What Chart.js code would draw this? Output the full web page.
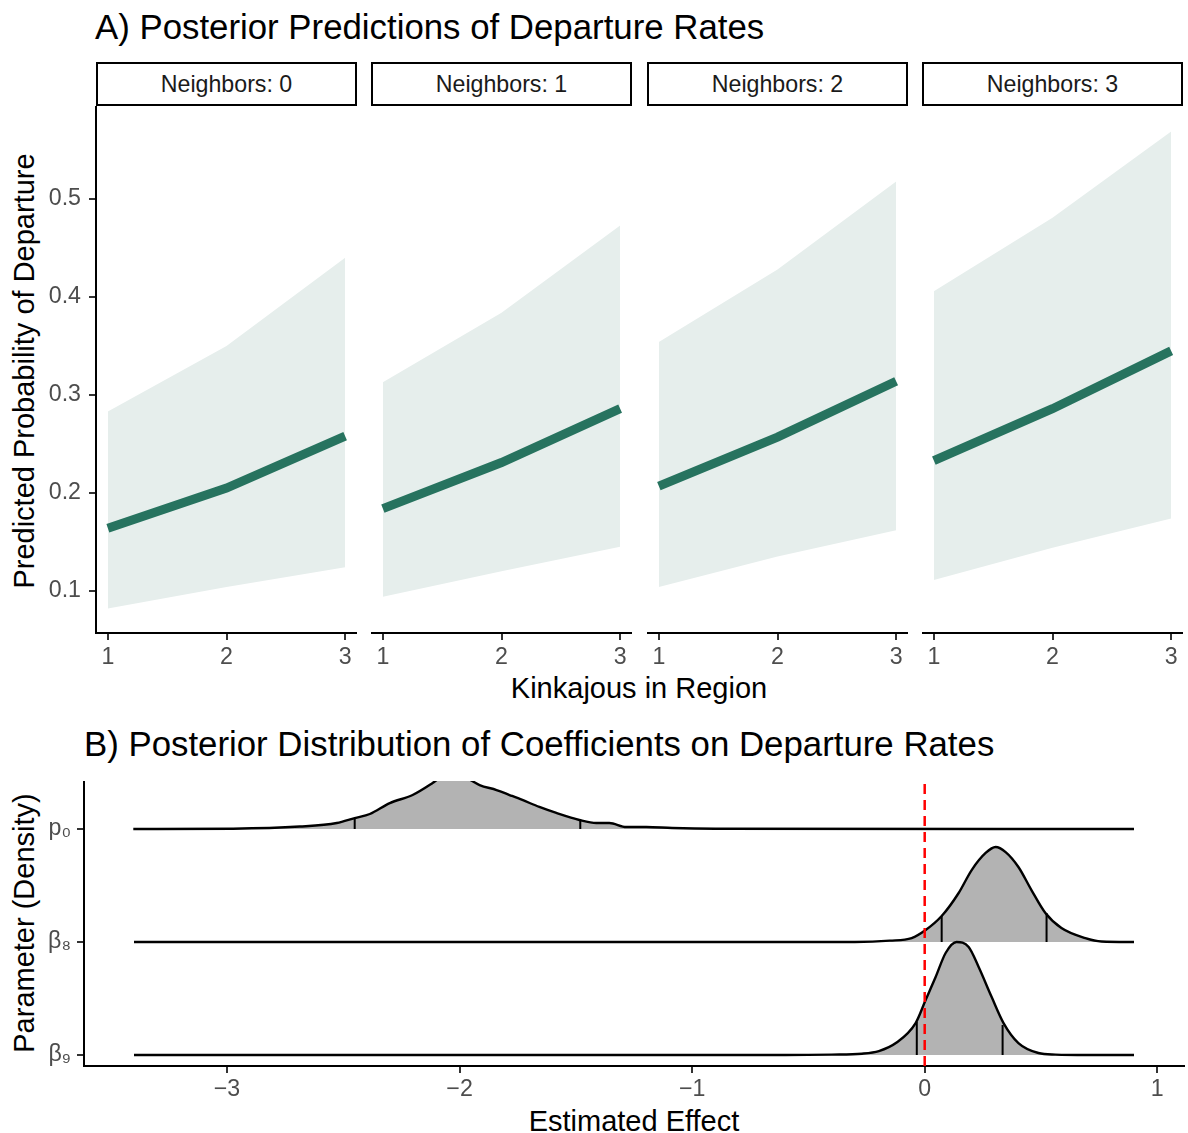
<!DOCTYPE html>
<html>
<head>
<meta charset="utf-8">
<script src="https://cdn.jsdelivr.net/npm/chart.js@4.4.0/dist/chart.umd.min.js"></script>
<style>
  body { margin: 0; background: #fff; }
  #wrap { position: relative; width: 1188px; height: 1133px; overflow: hidden; font-family: "Liberation Sans", Arial, sans-serif; }
  .txt { position: absolute; white-space: nowrap; line-height: 1; }
  .title { font-size: 34.8px; color: #000; }
  .axtitle { font-size: 29px; color: #000; }
  .rot { transform: translate(-50%, -50%) rotate(-90deg); }
  .strip { position: absolute; box-sizing: border-box; border: 2px solid #000; top: 62px; width: 261px; height: 44px;
           text-align: center; font-size: 23.2px; line-height: 40px; color: #1a1a1a; white-space: nowrap; }
  canvas { position: absolute; }
</style>
</head>
<body>
<div id="wrap">
  <div class="txt title" style="left:95px; top:9.5px;">A) Posterior Predictions of Departure Rates</div>
  <div class="txt title" style="left:84px; top:727px;">B) Posterior Distribution of Coefficients on Departure Rates</div>
  <div class="txt axtitle" style="left:639px; top:673.5px; transform:translateX(-50%);">Kinkajous in Region</div>
  <div class="txt axtitle" style="left:634px; top:1106.5px; transform:translateX(-50%);">Estimated Effect</div>
  <div class="txt axtitle rot" style="left:24px; top:371px;">Predicted Probability of Departure</div>
  <div class="txt axtitle rot" style="left:24px; top:923px;">Parameter (Density)</div>
</div>
<script>
// ---- panel A data ----
const kinkajous = [1, 2, 3];
const neighbors = [0, 1, 2, 3];
const predMean  = [[0.164, 0.205, 0.258], [0.184, 0.231, 0.286], [0.207, 0.257, 0.314], [0.233, 0.286, 0.345]];
const predUpper = [[0.283, 0.350, 0.440], [0.313, 0.384, 0.473], [0.354, 0.428, 0.518], [0.406, 0.481, 0.569]];
const predLower = [[0.082, 0.104, 0.124], [0.094, 0.120, 0.145], [0.104, 0.135, 0.162], [0.111, 0.144, 0.174]];
const xTicksA = [1, 2, 3];
const yTicksA = [0.1, 0.2, 0.3, 0.4, 0.5];
const yTickLabelsA = ['0.1', '0.2', '0.3', '0.4', '0.5'];

// ---- panel B data (ridge heights above each baseline, in row units) ----
const paramLabels = ['β₉', 'β₈', 'p₀'];   // rows 1, 2, 3
const b9X = [-3.4, -0.6, -0.4, -0.27, -0.197, -0.124, -0.039, 0.004, 0.047, 0.09, 0.137, 0.189, 0.232, 0.288, 0.339, 0.403, 0.489, 0.562, 0.7, 0.9];
const b9H = [0, 0, 0.004, 0.012, 0.035, 0.106, 0.283, 0.487, 0.69, 0.903, 1.0, 0.956, 0.779, 0.513, 0.283, 0.106, 0.018, 0.004, 0, 0];
const b8X = [-3.4, -0.3, -0.15, -0.056, 0.004, 0.073, 0.146, 0.202, 0.262, 0.305, 0.348, 0.403, 0.459, 0.519, 0.588, 0.691, 0.76, 0.9];
const b8H = [0, 0, 0.012, 0.035, 0.106, 0.23, 0.434, 0.637, 0.788, 0.841, 0.796, 0.664, 0.46, 0.257, 0.124, 0.035, 0.005, 0];
const p0X = [-3.403, -2.974, -2.687, -2.528, -2.451, -2.386, -2.3, -2.202, -2.116, -2.086, -2.026, -1.97, -1.914, -1.841,
             -1.785, -1.73, -1.657, -1.584, -1.485, -1.412, -1.356, -1.283, -1.197, -1.086, -0.9, 0.9];
const p0H = [0, 0.003, 0.022, 0.053, 0.097, 0.133, 0.23, 0.301, 0.407, 0.45, 0.47, 0.45, 0.389, 0.345,
             0.301, 0.257, 0.195, 0.142, 0.08, 0.053, 0.053, 0.018, 0.018, 0.009, 0.003, 0];
// 2.5% / 97.5% quantiles and the ridge height there
const b9Q = [-0.034, 0.335], b9QH = [0.292, 0.265];
const b8Q = [0.073, 0.524],  b8QH = [0.23, 0.257];
const p0Q = [-2.451, -1.481], p0QH = [0.097, 0.071];
const zeroLine = 0;
const xTicksB = [-3, -2, -1, 0, 1];
const xTickLabelsB = ['−3', '−2', '−1', '0', '1'];

const lineGreen = '#27735f';
const ribbonFill = '#e6eeec';
const tickGrey = '#4d4d4d';
const wrap = document.getElementById('wrap');
Chart.defaults.font.family = '"Liberation Sans", Arial, sans-serif';

function axisGrid() {
  return { display: true, drawOnChartArea: false, drawTicks: true, tickLength: 7, color: '#333', lineWidth: 2 };
}
// fixed axis sizes, and no label overhang padding
function fitX(h) {
  return s => { s.height = h; s.paddingLeft = 0; s.paddingRight = 0; s.paddingTop = 0; s.paddingBottom = 0; };
}
function fitY(w) {
  return s => { s.width = w; s.paddingLeft = 0; s.paddingRight = 0; s.paddingTop = 0; s.paddingBottom = 0; };
}

// ---- panel A facets ----
const facetLeft = [96, 371, 647, 922];
neighbors.forEach((n, i) => {
  const strip = document.createElement('div');
  strip.className = 'strip';
  strip.style.left = facetLeft[i] + 'px';
  strip.textContent = 'Neighbors: ' + n;
  wrap.appendChild(strip);

  const first = i === 0;
  const yW = first ? 96 : 0;
  const cv = document.createElement('canvas');
  cv.width = 261 + yW;
  cv.height = 527 + 50;
  cv.style.left = (facetLeft[i] - yW) + 'px';
  cv.style.top = '106px';
  wrap.appendChild(cv);

  const pts = arr => kinkajous.map((k, j) => ({ x: k, y: arr[i][j] }));
  new Chart(cv, {
    type: 'line',
    data: {
      datasets: [
        { data: pts(predMean), borderColor: lineGreen, borderWidth: 9, borderCapStyle: 'butt', pointRadius: 0, fill: false, tension: 0 },
        { data: pts(predUpper), borderColor: 'rgba(0,0,0,0)', borderWidth: 0, pointRadius: 0, fill: '+1', backgroundColor: ribbonFill },
        { data: pts(predLower), borderColor: 'rgba(0,0,0,0)', borderWidth: 0, pointRadius: 0, fill: false }
      ]
    },
    options: {
      responsive: false,
      animation: false,
      events: [],
      layout: { padding: 0 },
      plugins: { legend: { display: false }, tooltip: { enabled: false } },
      scales: {
        x: {
          type: 'linear', min: 0.9, max: 3.1,
          afterBuildTicks: s => { s.ticks = xTicksA.map(v => ({ value: v })); },
          afterFit: fitX(50),
          grid: axisGrid(),
          border: { display: true, color: '#000', width: 2 },
          ticks: { color: tickGrey, font: { size: 23.2 }, padding: 4, maxRotation: 0, callback: v => String(v) }
        },
        y: {
          display: first,
          type: 'linear', min: 0.057, max: 0.595,
          afterBuildTicks: s => { s.ticks = yTicksA.map(v => ({ value: v })); },
          afterFit: fitY(first ? 96 : 0),
          grid: axisGrid(),
          border: { display: true, color: '#000', width: 2 },
          ticks: { color: tickGrey, font: { size: 23.2 }, padding: 8, callback: (v, idx) => yTickLabelsA[idx] }
        }
      }
    }
  });
});

// ---- panel B ridgeline ----
const cvB = document.createElement('canvas');
cvB.width = 1188;
cvB.height = 285 + 60;
cvB.style.left = '0px';
cvB.style.top = '781px';
wrap.appendChild(cvB);

function ridge(xs, hs, base) {
  return {
    data: xs.map((x, j) => ({ x: x, y: base + hs[j] })),
    borderColor: '#000', borderWidth: 2.4, pointRadius: 0,
    cubicInterpolationMode: 'monotone',
    fill: { value: base }, backgroundColor: '#b3b3b3'
  };
}
function qlines(qs, qh, base) {
  // two vertical segments separated by a gap (null)
  return {
    data: [{ x: qs[0], y: base }, { x: qs[0], y: base + qh[0] }, { x: null, y: null },
           { x: qs[1], y: base }, { x: qs[1], y: base + qh[1] }],
    borderColor: '#000', borderWidth: 2, pointRadius: 0, fill: false, spanGaps: false
  };
}
const yMinB = 0.903, yMaxB = 3.425;
new Chart(cvB, {
  type: 'line',
  data: {
    datasets: [
      { data: [{ x: zeroLine, y: yMinB }, { x: zeroLine, y: yMaxB }], borderColor: '#ff0000', borderWidth: 2.5, borderDash: [10, 6], pointRadius: 0, fill: false },
      qlines(b9Q, b9QH, 1),
      ridge(b9X, b9H, 1),
      qlines(b8Q, b8QH, 2),
      ridge(b8X, b8H, 2),
      qlines(p0Q, p0QH, 3),
      ridge(p0X, p0H, 3)
    ]
  },
  options: {
    responsive: false,
    animation: false,
    events: [],
    layout: { padding: { right: 4 } },
    plugins: { legend: { display: false }, tooltip: { enabled: false } },
    scales: {
      x: {
        type: 'linear', min: -3.615, max: 1.115,
        afterBuildTicks: s => { s.ticks = xTicksB.map(v => ({ value: v })); },
        afterFit: fitX(60),
        grid: axisGrid(),
        border: { display: true, color: '#000', width: 2 },
        ticks: { color: tickGrey, font: { size: 23.2 }, padding: 3, maxRotation: 0, callback: (v, idx) => xTickLabelsB[idx] }
      },
      y: {
        type: 'linear', min: yMinB, max: yMaxB,
        afterBuildTicks: s => { s.ticks = [1, 2, 3].map(v => ({ value: v })); },
        afterFit: fitY(84),
        grid: axisGrid(),
        border: { display: true, color: '#000', width: 2 },
        ticks: { color: tickGrey, font: { size: 23.2 }, padding: 6, callback: (v, idx) => paramLabels[idx] }
      }
    }
  }
});
</script>
</body>
</html>
